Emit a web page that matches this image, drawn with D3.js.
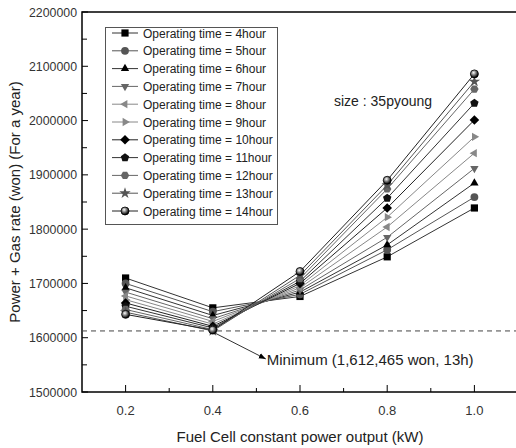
<!DOCTYPE html>
<html>
<head>
<meta charset="utf-8">
<script src="https://cdn.jsdelivr.net/npm/d3@7"></script>
<style>
  body { margin: 0; background: #fff; }
  svg { font-family: "Liberation Sans", Arial, sans-serif; }
</style>
</head>
<body>
<svg width="516" height="448"></svg>
<script>
// chart data
const outputs = [0.2, 0.4, 0.6, 0.8, 1.0];
const xTicks = [0.2, 0.4, 0.6, 0.8, 1.0];
const yTicks = [1500000, 1600000, 1700000, 1800000, 1900000, 2000000, 2100000, 2200000];
const hours = [4, 5, 6, 7, 8, 9, 10, 11, 12, 13, 14];

const op4h = [1710000, 1655000, 1676000, 1749000, 1839000];
const op5h = [1700000, 1648000, 1680000, 1762000, 1859000];
const op6h = [1692000, 1641000, 1684000, 1771000, 1885000];
const op7h = [1684000, 1635000, 1688000, 1785000, 1912000];
const op8h = [1677000, 1630000, 1692000, 1804000, 1940000];
const op9h = [1670000, 1625000, 1696000, 1822000, 1970000];
const op10h = [1664000, 1621000, 1700000, 1839000, 2001000];
const op11h = [1658000, 1618000, 1704000, 1857000, 2032000];
const op12h = [1652000, 1615000, 1709000, 1874000, 2058000];
const op13h = [1647000, 1612465, 1715000, 1881000, 2072000];
const op14h = [1643000, 1614000, 1722000, 1890000, 2086000];

const minimum = { x: 0.4, y: 1612465, label: "Minimum (1,612,465 won, 13h)" };

const values = [op4h, op5h, op6h, op7h, op8h, op9h, op10h, op11h, op12h, op13h, op14h];
const series = hours.map((h, i) => ({
  name: "Operating time = " + h + "hour",
  points: outputs.map((x, j) => ({ x: x, y: values[i][j] }))
}));

// styles for each series: marker shape, marker fill, line colour
const styles = [
  { shape: "square", fill: "#000", line: "#333" },
  { shape: "circle", fill: "#555", line: "#555" },
  { shape: "up", fill: "#000", line: "#333" },
  { shape: "down", fill: "#666", line: "#666" },
  { shape: "left", fill: "#888", line: "#888" },
  { shape: "right", fill: "#888", line: "#888" },
  { shape: "diamond", fill: "#000", line: "#222" },
  { shape: "pentagon", fill: "#111", line: "#333" },
  { shape: "hexagon", fill: "#666", line: "#666" },
  { shape: "star", fill: "#555", line: "#555" },
  { shape: "ball", fill: "#000", line: "#222" }
];

const svg = d3.select("svg");
const margin = { left: 82, top: 12, right: 518, bottom: 392 };

const x = d3.scaleLinear().domain([0.1, 1.1]).range([margin.left, margin.right]);
const y = d3.scaleLinear().domain([1500000, 2200000]).range([margin.bottom, margin.top]);

const defs = svg.append("defs");
const grad = defs.append("radialGradient").attr("id", "ball")
  .attr("cx", "40%").attr("cy", "35%").attr("r", "60%");
grad.append("stop").attr("offset", "0%").attr("stop-color", "#fff");
grad.append("stop").attr("offset", "45%").attr("stop-color", "#888");
grad.append("stop").attr("offset", "100%").attr("stop-color", "#000");

function polygon(n, r, rot) {
  const pts = d3.range(n).map(k => {
    const a = rot + k * 2 * Math.PI / n;
    return [r * Math.cos(a), r * Math.sin(a)];
  });
  return "M" + pts.map(p => p.join(",")).join("L") + "Z";
}

function markerPath(shape) {
  switch (shape) {
    case "square": return "M-3.6,-3.6H3.6V3.6H-3.6Z";
    case "circle": return d3.symbol(d3.symbolCircle, 48)();
    case "up": return polygon(3, 4.8, -Math.PI / 2);
    case "down": return polygon(3, 4.8, Math.PI / 2);
    case "left": return polygon(3, 4.8, Math.PI);
    case "right": return polygon(3, 4.8, 0);
    case "diamond": return polygon(4, 4.8, -Math.PI / 2);
    case "pentagon": return polygon(5, 4.4, -Math.PI / 2);
    case "hexagon": return polygon(6, 4.2, 0);
    case "star": return d3.symbol(d3.symbolStar, 40)();
    default: return d3.symbol(d3.symbolCircle, 52)();
  }
}

function drawMarker(g, st) {
  if (st.shape === "ball") {
    g.append("circle").attr("r", 4).attr("fill", "url(#ball)")
      .attr("stroke", "#000").attr("stroke-width", 0.8);
  } else {
    g.append("path").attr("d", markerPath(st.shape)).attr("fill", st.fill);
  }
}

// plot frame
svg.append("rect")
  .attr("x", margin.left).attr("y", margin.top)
  .attr("width", margin.right - margin.left).attr("height", margin.bottom - margin.top)
  .attr("fill", "none").attr("stroke", "#000").attr("stroke-width", 1.5);

// axes with inward ticks
const xAxis = svg.append("g").attr("transform", "translate(0," + margin.bottom + ")");
xAxis.selectAll(".minor").data(d3.range(0.3, 1.1, 0.2)).enter().append("line")
  .attr("x1", d => x(d)).attr("x2", d => x(d)).attr("y1", 0).attr("y2", -4)
  .attr("stroke", "#000");
xAxis.selectAll(".major").data(xTicks).enter().append("line")
  .attr("x1", d => x(d)).attr("x2", d => x(d)).attr("y1", 0).attr("y2", -7)
  .attr("stroke", "#000");
xAxis.selectAll("text").data(xTicks).enter().append("text")
  .attr("x", d => x(d)).attr("y", 23)
  .attr("text-anchor", "middle").attr("font-size", 13).attr("fill", "#333")
  .text(d3.format(".1f"));

const yAxis = svg.append("g").attr("transform", "translate(" + margin.left + ",0)");
yAxis.selectAll(".minor").data(d3.range(1550000, 2200000, 100000)).enter().append("line")
  .attr("y1", d => y(d)).attr("y2", d => y(d)).attr("x1", 0).attr("x2", 5)
  .attr("stroke", "#000");
yAxis.selectAll(".major").data(yTicks).enter().append("line")
  .attr("y1", d => y(d)).attr("y2", d => y(d)).attr("x1", 0).attr("x2", 6)
  .attr("stroke", "#000");
yAxis.selectAll("text").data(yTicks).enter().append("text")
  .attr("x", -5).attr("y", d => y(d) + 4.5)
  .attr("text-anchor", "end").attr("font-size", 13).attr("fill", "#333")
  .attr("textLength", 48).attr("lengthAdjust", "spacingAndGlyphs")
  .text(d => d);

svg.append("text")
  .attr("transform", "translate(20," + (y(1850000)) + ") rotate(-90)")
  .attr("text-anchor", "middle").attr("font-size", 15).attr("fill", "#222")
  .text("Power + Gas rate (won) (For a year)");

svg.append("text")
  .attr("x", 300).attr("y", 442)
  .attr("text-anchor", "middle").attr("font-size", 15).attr("fill", "#222")
  .text("Fuel Cell constant power output (kW)");

// minimum reference line
svg.append("line")
  .attr("x1", margin.left).attr("x2", margin.right)
  .attr("y1", y(minimum.y)).attr("y2", y(minimum.y))
  .attr("stroke", "#444").attr("stroke-dasharray", "5,4");

// series lines and markers
const line = d3.line().x(d => x(d.x)).y(d => y(d.y));
series.forEach((s, i) => {
  svg.append("path").datum(s.points).attr("d", line)
    .attr("fill", "none").attr("stroke", styles[i].line).attr("stroke-width", 1);
});
series.forEach((s, i) => {
  s.points.forEach(p => {
    const g = svg.append("g").attr("transform", "translate(" + x(p.x) + "," + y(p.y) + ")");
    drawMarker(g, styles[i]);
  });
});

// minimum annotation
defs.append("marker").attr("id", "arrow")
  .attr("viewBox", "0 0 10 10").attr("refX", 10).attr("refY", 5)
  .attr("markerWidth", 7).attr("markerHeight", 7).attr("orient", "auto")
  .append("path").attr("d", "M0,1L10,5L0,9Z").attr("fill", "#000");
const mx = x(minimum.x), my = y(minimum.y);
svg.append("line")
  .attr("x1", mx + 2).attr("y1", my + 2).attr("x2", mx + 53).attr("y2", my + 28)
  .attr("stroke", "#333").attr("marker-end", "url(#arrow)");
svg.append("text")
  .attr("x", mx + 54).attr("y", my + 34)
  .attr("font-size", 15).attr("fill", "#222")
  .text(minimum.label);

svg.append("text")
  .attr("x", 334).attr("y", 106)
  .attr("font-size", 14).attr("fill", "#222")
  .text("size : 35pyoung");

// legend
const legend = svg.append("g");
legend.append("rect")
  .attr("x", 105.5).attr("y", 27.5).attr("width", 172).attr("height", 197)
  .attr("fill", "#fff").attr("stroke", "#555");
series.forEach((s, i) => {
  const ly = 33 + i * 17.8;
  const g = legend.append("g");
  g.append("line").attr("x1", 112).attr("x2", 138).attr("y1", ly).attr("y2", ly)
    .attr("stroke", styles[i].line);
  const m = g.append("g").attr("transform", "translate(125," + ly + ")");
  drawMarker(m, styles[i]);
  g.append("text").attr("x", 143).attr("y", ly + 4.5)
    .attr("font-size", 12).attr("fill", "#222").text(s.name);
});
</script>
</body>
</html>
